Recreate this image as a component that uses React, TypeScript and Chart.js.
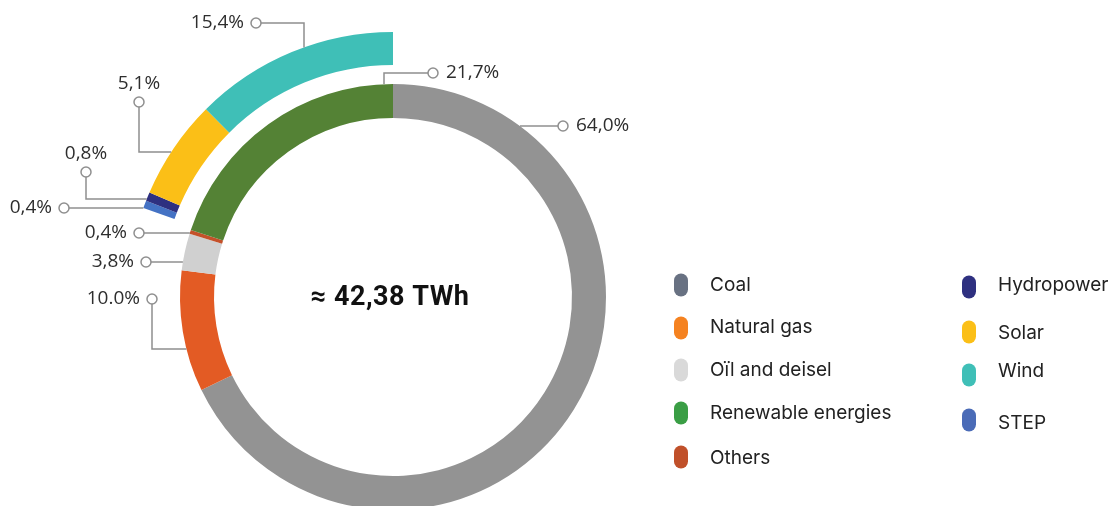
import React, { useEffect, useRef } from "react";
import { Chart, registerables } from "chart.js";

Chart.register(...registerables);

// ---- data ----
// Arc shares as drawn in the picture (percent of the full circle), and the printed labels
const mainLabels = ["Coal", "Natural gas", "Oïl and deisel", "Others", "Renewable energies"];
const mainShares = [67.8, 9.2, 2.8, 0.3, 19.9];
const mainText = ["64,0%", "10.0%", "3,8%", "0,4%", "21,7%"];
const mainColors = ["#939393", "#e35b24", "#d0d0d0", "#c4512a", "#548235"];

const renewLabels = ["STEP", "Hydropower", "Solar", "Wind"];
const renewShares = [0.47, 0.53, 6.08, 12.47];
const renewText = ["0,4%", "0,8%", "5,1%", "15,4%"];
const renewColors = ["#4472c4", "#2e3080", "#fbbf17", "#3fbfb7"];

const legendCol1 = ["Coal", "Natural gas", "Oïl and deisel", "Renewable energies", "Others"];
const legendCol1Colors = ["#687182", "#f58220", "#d9d9d9", "#3a9e45", "#c0502a"];
const legendCol2 = ["Hydropower", "Solar", "Wind", "STEP"];
const legendCol2Colors = ["#2e3080", "#fbbf17", "#3fbfb7", "#4a6bb7"];

const centerText = "≈ 42,38 TWh";

// ---- layout (label placement relative to chart center) ----
type LabelSpec = {
  ds: number;
  i: number;
  dx: number;
  dy: number;
  route: "h" | "vh" | "hv";
  elbow?: number;
  side: "left" | "right" | "above";
};
const labelLayout: LabelSpec[] = [
  { ds: 2, i: 0, dx: 170, dy: -171, route: "h", side: "right" },
  { ds: 2, i: 1, dx: -241, dy: 2, route: "vh", elbow: 52, side: "left" },
  { ds: 2, i: 2, dx: -247, dy: -35, route: "h", side: "left" },
  { ds: 2, i: 3, dx: -254, dy: -64, route: "h", side: "left" },
  { ds: 2, i: 4, dx: 40, dy: -224, route: "hv", elbow: -9, side: "right" },
  { ds: 0, i: 1, dx: -329, dy: -89, route: "h", side: "left" },
  { ds: 0, i: 2, dx: -307, dy: -125, route: "vh", elbow: -98, side: "above" },
  { ds: 0, i: 3, dx: -254, dy: -195, route: "vh", elbow: -145, side: "above" },
  { ds: 0, i: 4, dx: -137, dy: -274, route: "hv", elbow: -89, side: "left" },
];

const legendLayout = {
  col1: { markerX: 681, textX: 710, markerYs: [285, 328, 370, 413, 457], textYs: [285, 327, 370, 413, 458] },
  col2: { markerX: 969, textX: 998, markerYs: [287, 332, 375, 420], textYs: [285, 333, 371, 423] },
};

const W = 1113;
const H = 594;

function roundRect(ctx: CanvasRenderingContext2D, x: number, y: number, w: number, h: number, r: number) {
  ctx.beginPath();
  ctx.moveTo(x + r, y);
  ctx.lineTo(x + w - r, y);
  ctx.arcTo(x + w, y, x + w, y + r, r);
  ctx.lineTo(x + w, y + h - r);
  ctx.arcTo(x + w, y + h, x + w - r, y + h, r);
  ctx.lineTo(x + r, y + h);
  ctx.arcTo(x, y + h, x, y + h - r, r);
  ctx.lineTo(x, y + r);
  ctx.arcTo(x, y, x + r, y, r);
  ctx.closePath();
}

const overlayPlugin = {
  id: "overlay",
  afterDatasetsDraw(chart: any) {
    const ctx: CanvasRenderingContext2D = chart.ctx;
    const area = chart.chartArea;
    const cx = (area.left + area.right) / 2;
    const cy = (area.top + area.bottom) / 2;

    const circles: { x: number; y: number; spec: LabelSpec; text: string }[] = [];
    ctx.save();
    ctx.strokeStyle = "#8f8f8f";
    ctx.lineWidth = 1.5;
    for (const spec of labelLayout) {
      const meta = chart.getDatasetMeta(spec.ds);
      const arc = meta.data[spec.i];
      if (!arc) continue;
      const R = arc.outerRadius;
      const ax = arc.x;
      const ay = arc.y;
      const px = ax + spec.dx;
      const py = ay + spec.dy;
      const sgn = spec.dx < 0 ? -1 : 1;
      ctx.beginPath();
      ctx.moveTo(px, py);
      if (spec.route === "h") {
        const ex = ax + sgn * Math.sqrt(R * R - spec.dy * spec.dy);
        ctx.lineTo(ex, py);
      } else if (spec.route === "vh") {
        const ey = ay + (spec.elbow as number);
        const ex = ax + sgn * Math.sqrt(R * R - (spec.elbow as number) ** 2);
        ctx.lineTo(px, ey);
        ctx.lineTo(ex, ey);
      } else {
        const ex = ax + (spec.elbow as number);
        const ey = ay - Math.sqrt(R * R - (spec.elbow as number) ** 2);
        ctx.lineTo(ex, py);
        ctx.lineTo(ex, ey);
      }
      ctx.stroke();
      const text = spec.ds === 0 ? renewText[spec.i - 1] : mainText[spec.i];
      circles.push({ x: px, y: py, spec, text });
    }
    for (const c of circles) {
      ctx.beginPath();
      ctx.arc(c.x, c.y, 5, 0, Math.PI * 2);
      ctx.fillStyle = "#ffffff";
      ctx.fill();
      ctx.stroke();
    }
    ctx.fillStyle = "#2e2e2e";
    ctx.font = '19px "Open Sans"';
    ctx.textBaseline = "middle";
    for (const c of circles) {
      if (c.spec.side === "left") {
        ctx.textAlign = "right";
        ctx.fillText(c.text, c.x - 12, c.y);
      } else if (c.spec.side === "right") {
        ctx.textAlign = "left";
        ctx.fillText(c.text, c.x + 13, c.y);
      } else {
        ctx.textAlign = "center";
        ctx.fillText(c.text, c.x, c.y - 18);
      }
    }

    // center text
    ctx.fillStyle = "#111111";
    ctx.font = "bold 27px Roboto";
    ctx.textAlign = "center";
    ctx.textBaseline = "middle";
    (ctx as any).letterSpacing = "0.5px";
    ctx.fillText(centerText, cx - 3, cy + 1);
    (ctx as any).letterSpacing = "0px";

    // legend
    ctx.font = "19px Inter";
    ctx.textAlign = "left";
    const drawCol = (
      labels: string[],
      colors: string[],
      col: { markerX: number; textX: number; markerYs: number[]; textYs: number[] }
    ) => {
      labels.forEach((lab, k) => {
        ctx.fillStyle = colors[k];
        roundRect(ctx, col.markerX - 7, col.markerYs[k] - 11.5, 14, 23, 7);
        ctx.fill();
        ctx.fillStyle = "#222222";
        ctx.fillText(lab, col.textX, col.textYs[k]);
      });
    };
    drawCol(legendCol1, legendCol1Colors, legendLayout.col1);
    drawCol(legendCol2, legendCol2Colors, legendLayout.col2);
    ctx.restore();
  },
};

export default function App() {
  const ref = useRef<HTMLCanvasElement | null>(null);
  useEffect(() => {
    if (!ref.current) return;
    const renewTotal = renewShares.reduce((a, b) => a + b, 0);
    const mainTotal = mainShares.reduce((a, b) => a + b, 0);
    const chart = new Chart(ref.current, {
      type: "doughnut",
      data: {
        labels: mainLabels,
        datasets: [
          {
            label: "Renewables",
            data: [mainTotal - renewTotal, ...renewShares],
            backgroundColor: ["rgba(0,0,0,0)", ...renewColors],
            borderWidth: 0,
            weight: 33,
          } as any,
          {
            label: "spacer",
            data: [1],
            backgroundColor: ["rgba(0,0,0,0)"],
            borderWidth: 0,
            weight: 19,
          } as any,
          {
            label: "Mix",
            data: mainShares,
            backgroundColor: mainColors,
            borderWidth: 0,
            weight: 34,
          } as any,
        ],
      },
      options: {
        responsive: false,
        animation: false,
        cutout: "67.547%",
        layout: { padding: { left: 128, right: 455, top: 32, bottom: 32 } },
        plugins: {
          legend: { display: false },
          tooltip: { enabled: false },
        },
        events: [],
      } as any,
      plugins: [overlayPlugin],
    });
    return () => chart.destroy();
  }, []);
  return (
    <div
      style={{
        position: "absolute",
        left: 0,
        top: 0,
        width: 1113,
        height: 506,
        overflow: "hidden",
        background: "#ffffff",
      }}
    >
      <canvas ref={ref} width={W} height={H} style={{ display: "block", width: W, height: H }} />
    </div>
  );
}
